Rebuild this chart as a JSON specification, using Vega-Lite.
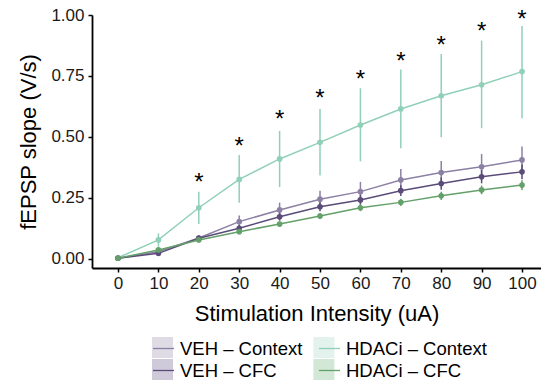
{
  "$schema": "https://vega.github.io/schema/vega-lite/v6.json",
  "width": 449,
  "height": 253,
  "autosize": "none",
  "padding": {"left": 92, "top": 15, "right": 0, "bottom": 116},
  "background": "white",
  "config": {
    "view": {"stroke": null},
    "font": "Liberation Sans",
    "axis": {"grid": false, "domainColor": "black", "domainWidth": 1.8, "tickColor": "black", "tickWidth": 1.5, "tickSize": 4, "labelFont": "Liberation Sans", "labelFontSize": 17, "labelColor": "#1a1a1a", "titleFont": "Liberation Sans", "titleFontSize": 22, "titleFontWeight": "normal", "titleColor": "black"}
  },
  "data": {"values": [
    {"dose": 0, "group": "HDACi – Context", "mean": 0.005, "lo": 0.0, "hi": 0.01, "sig_y": null},
    {"dose": 10, "group": "HDACi – Context", "mean": 0.078, "lo": 0.05, "hi": 0.105, "sig_y": null},
    {"dose": 20, "group": "HDACi – Context", "mean": 0.21, "lo": 0.143, "hi": 0.276, "sig_y": 0.332},
    {"dose": 30, "group": "HDACi – Context", "mean": 0.326, "lo": 0.23, "hi": 0.426, "sig_y": 0.48},
    {"dose": 40, "group": "HDACi – Context", "mean": 0.41, "lo": 0.295, "hi": 0.525, "sig_y": 0.59},
    {"dose": 50, "group": "HDACi – Context", "mean": 0.478, "lo": 0.342, "hi": 0.615, "sig_y": 0.676},
    {"dose": 60, "group": "HDACi – Context", "mean": 0.549, "lo": 0.4, "hi": 0.7, "sig_y": 0.754},
    {"dose": 70, "group": "HDACi – Context", "mean": 0.615, "lo": 0.454, "hi": 0.777, "sig_y": 0.829},
    {"dose": 80, "group": "HDACi – Context", "mean": 0.669, "lo": 0.499, "hi": 0.84, "sig_y": 0.895},
    {"dose": 90, "group": "HDACi – Context", "mean": 0.714, "lo": 0.536, "hi": 0.895, "sig_y": 0.952},
    {"dose": 100, "group": "HDACi – Context", "mean": 0.768, "lo": 0.577, "hi": 0.955, "sig_y": 1.0},
    {"dose": 0, "group": "VEH – Context", "mean": 0.003, "lo": 0.0, "hi": 0.006, "sig_y": null},
    {"dose": 10, "group": "VEH – Context", "mean": 0.03, "lo": 0.022, "hi": 0.038, "sig_y": null},
    {"dose": 20, "group": "VEH – Context", "mean": 0.086, "lo": 0.074, "hi": 0.098, "sig_y": null},
    {"dose": 30, "group": "VEH – Context", "mean": 0.153, "lo": 0.128, "hi": 0.178, "sig_y": null},
    {"dose": 40, "group": "VEH – Context", "mean": 0.201, "lo": 0.171, "hi": 0.231, "sig_y": null},
    {"dose": 50, "group": "VEH – Context", "mean": 0.245, "lo": 0.21, "hi": 0.28, "sig_y": null},
    {"dose": 60, "group": "VEH – Context", "mean": 0.276, "lo": 0.236, "hi": 0.316, "sig_y": null},
    {"dose": 70, "group": "VEH – Context", "mean": 0.324, "lo": 0.279, "hi": 0.369, "sig_y": null},
    {"dose": 80, "group": "VEH – Context", "mean": 0.354, "lo": 0.306, "hi": 0.402, "sig_y": null},
    {"dose": 90, "group": "VEH – Context", "mean": 0.378, "lo": 0.326, "hi": 0.43, "sig_y": null},
    {"dose": 100, "group": "VEH – Context", "mean": 0.406, "lo": 0.351, "hi": 0.461, "sig_y": null},
    {"dose": 0, "group": "VEH – CFC", "mean": 0.003, "lo": 0.0, "hi": 0.006, "sig_y": null},
    {"dose": 10, "group": "VEH – CFC", "mean": 0.023, "lo": 0.018, "hi": 0.028, "sig_y": null},
    {"dose": 20, "group": "VEH – CFC", "mean": 0.085, "lo": 0.075, "hi": 0.095, "sig_y": null},
    {"dose": 30, "group": "VEH – CFC", "mean": 0.126, "lo": 0.113, "hi": 0.139, "sig_y": null},
    {"dose": 40, "group": "VEH – CFC", "mean": 0.173, "lo": 0.157, "hi": 0.189, "sig_y": null},
    {"dose": 50, "group": "VEH – CFC", "mean": 0.214, "lo": 0.196, "hi": 0.232, "sig_y": null},
    {"dose": 60, "group": "VEH – CFC", "mean": 0.242, "lo": 0.222, "hi": 0.262, "sig_y": null},
    {"dose": 70, "group": "VEH – CFC", "mean": 0.28, "lo": 0.258, "hi": 0.302, "sig_y": null},
    {"dose": 80, "group": "VEH – CFC", "mean": 0.309, "lo": 0.284, "hi": 0.334, "sig_y": null},
    {"dose": 90, "group": "VEH – CFC", "mean": 0.337, "lo": 0.31, "hi": 0.364, "sig_y": null},
    {"dose": 100, "group": "VEH – CFC", "mean": 0.357, "lo": 0.327, "hi": 0.387, "sig_y": null},
    {"dose": 0, "group": "HDACi – CFC", "mean": 0.003, "lo": 0.001, "hi": 0.005, "sig_y": null},
    {"dose": 10, "group": "HDACi – CFC", "mean": 0.037, "lo": 0.032, "hi": 0.042, "sig_y": null},
    {"dose": 20, "group": "HDACi – CFC", "mean": 0.078, "lo": 0.071, "hi": 0.085, "sig_y": null},
    {"dose": 30, "group": "HDACi – CFC", "mean": 0.112, "lo": 0.103, "hi": 0.121, "sig_y": null},
    {"dose": 40, "group": "HDACi – CFC", "mean": 0.143, "lo": 0.132, "hi": 0.154, "sig_y": null},
    {"dose": 50, "group": "HDACi – CFC", "mean": 0.176, "lo": 0.164, "hi": 0.188, "sig_y": null},
    {"dose": 60, "group": "HDACi – CFC", "mean": 0.21, "lo": 0.196, "hi": 0.224, "sig_y": null},
    {"dose": 70, "group": "HDACi – CFC", "mean": 0.232, "lo": 0.217, "hi": 0.247, "sig_y": null},
    {"dose": 80, "group": "HDACi – CFC", "mean": 0.259, "lo": 0.242, "hi": 0.276, "sig_y": null},
    {"dose": 90, "group": "HDACi – CFC", "mean": 0.283, "lo": 0.265, "hi": 0.301, "sig_y": null},
    {"dose": 100, "group": "HDACi – CFC", "mean": 0.303, "lo": 0.283, "hi": 0.323, "sig_y": null}
  ]},
  "encoding": {
    "x": {"field": "dose", "type": "quantitative", "scale": {"domain": [-6.44, 104.7], "nice": false, "zero": false}, "axis": {"values": [0, 10, 20, 30, 40, 50, 60, 70, 80, 90, 100], "title": "Stimulation Intensity (uA)", "labelPadding": 3, "titlePadding": 12}},
    "y": {"type": "quantitative", "scale": {"domain": [-0.037, 1.0], "nice": false, "zero": false}, "axis": {"values": [0, 0.25, 0.5, 0.75, 1.0], "format": ".2f", "title": "fEPSP slope (V/s)", "labelPadding": 4, "titlePadding": 10}}
  },
  "layer": [
    {
      "mark": {"type": "point", "filled": true, "opacity": 0},
      "encoding": {
        "y": {"field": "mean", "type": "quantitative"},
        "color": {"field": "group", "type": "nominal",
          "scale": {"domain": ["VEH – Context", "HDACi – Context", "VEH – CFC", "HDACi – CFC"], "range": ["#dedbe4", "#e3f2ec", "#cfcada", "#d3e7d6"]},
          "legend": {"orient": "none", "legendX": 60, "legendY": 322, "columns": 2, "direction": "horizontal", "symbolType": "square", "symbolSize": 441, "symbolStrokeWidth": 0, "symbolOpacity": 1, "labelExpr": "''", "labelFontSize": 18.5, "labelOffset": 0, "columnPadding": 140.4, "rowPadding": 1, "title": null, "padding": 0}}
      }
    },
    {
      "mark": {"type": "rule", "strokeWidth": 1.5},
      "encoding": {
        "y": {"field": "lo", "type": "quantitative"},
        "y2": {"field": "hi"},
        "stroke": {"field": "group", "type": "nominal", "sort": ["VEH – Context", "HDACi – Context", "VEH – CFC", "HDACi – CFC"], "scale": {"range": ["#8c80a5", "#91d0b8", "#5a4b78", "#64a069"]},
          "legend": {"orient": "none", "legendX": 60, "legendY": 322, "columns": 2, "direction": "horizontal", "symbolType": "stroke", "symbolSize": 441, "symbolStrokeWidth": 1.3, "labelFont": "Liberation Sans", "labelFontSize": 18.5, "labelColor": "black", "labelOffset": 5, "columnPadding": 13, "rowPadding": 1, "title": null, "padding": 0}}
      }
    },
    {
      "mark": {"type": "line", "strokeWidth": 1.5},
      "encoding": {
        "y": {"field": "mean", "type": "quantitative"},
        "stroke": {"field": "group", "type": "nominal", "sort": ["VEH – Context", "HDACi – Context", "VEH – CFC", "HDACi – CFC"], "scale": {"range": ["#8c80a5", "#91d0b8", "#5a4b78", "#64a069"]},
          "legend": {"orient": "none", "legendX": 60, "legendY": 322, "columns": 2, "direction": "horizontal", "symbolType": "stroke", "symbolSize": 441, "symbolStrokeWidth": 1.3, "labelFont": "Liberation Sans", "labelFontSize": 18.5, "labelColor": "black", "labelOffset": 5, "columnPadding": 13, "rowPadding": 1, "title": null, "padding": 0}}
      }
    },
    {
      "mark": {"type": "point", "filled": true, "size": 32, "opacity": 1},
      "encoding": {
        "y": {"field": "mean", "type": "quantitative"},
        "fill": {"field": "group", "type": "nominal", "sort": ["VEH – Context", "HDACi – Context", "VEH – CFC", "HDACi – CFC"], "scale": {"range": ["#8c80a5", "#91d0b8", "#5a4b78", "#64a069"]}, "legend": null}
      }
    },
    {
      "transform": [{"filter": "isValid(datum.sig_y)"}],
      "mark": {"type": "text", "text": "*", "fontSize": 24, "font": "Liberation Sans", "baseline": "alphabetic", "align": "center", "dy": 12, "color": "black"},
      "encoding": {
        "y": {"field": "sig_y", "type": "quantitative"}
      }
    }
  ]
}
